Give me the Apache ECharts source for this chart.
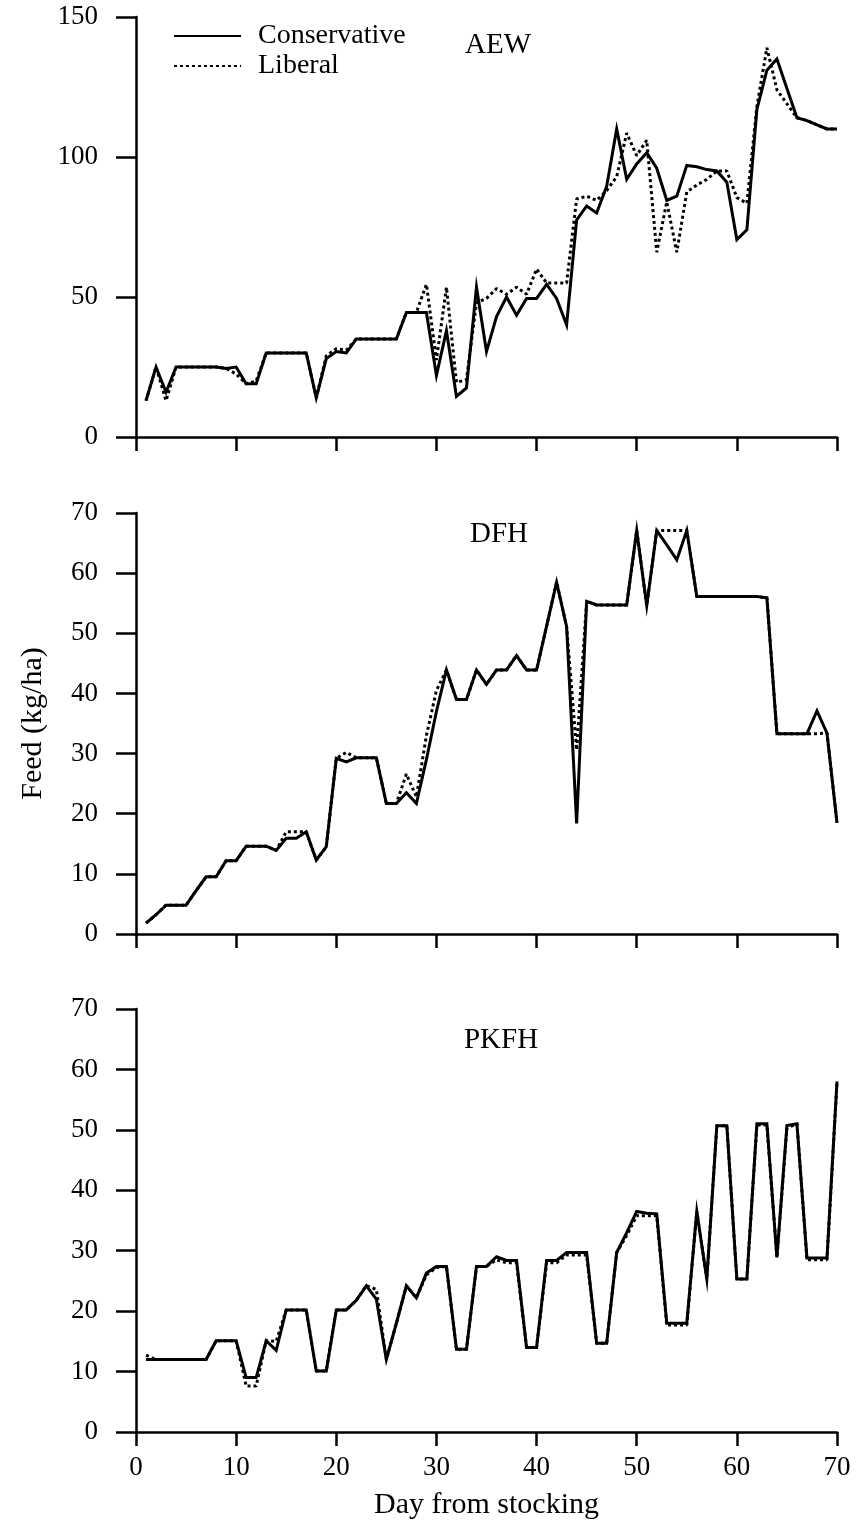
<!DOCTYPE html>
<html>
<head>
<meta charset="utf-8">
<title>Feed (kg/ha) by day from stocking</title>
<script src="https://cdn.jsdelivr.net/npm/echarts@6/dist/echarts.min.js"></script>
<style>
  html, body { margin: 0; padding: 0; background: #fff; }
  #chart { width: 857px; height: 1525px; }
</style>
</head>
<body>
<div id="chart"></div>
<script>
// Day from stocking
const days = [1,2,3,4,5,6,7,8,9,10,11,12,13,14,15,16,17,18,19,20,
  21,22,23,24,25,26,27,28,29,30,31,32,33,34,35,36,37,38,39,40,
  41,42,43,44,45,46,47,48,49,50,51,52,53,54,55,56,57,58,59,60,
  61,62,63,64,65,66,67,68,69,70];

// Panel names
const panelNames = ['AEW', 'DFH', 'PKFH'];
const seriesNames = ['Conservative', 'Liberal'];

// Tick labels for the day axis
const dayTicks = [0, 10, 20, 30, 40, 50, 60, 70];

// AEW feed (kg/ha)
const aewConservative = [13,25,16,25,25,25,25,25,24.5,25,
  19,19,30,30,30,30,30,14,28,30.5,
  30,35,35,35,35,35,44.5,44.5,44.5,22,
  38,14.5,17.5,53.5,30.5,43,50,43.5,49.5,49.5,
  54.5,49.5,40,77.5,82.5,80,89.5,110,92,97.5,
  101.5,96,84.5,86,97,96.5,95.5,95,91,70.5,
  74,117,131,135,124.5,114,113,111.5,110,110];
const aewLiberal = [13,25,13,25,25,25,25,25,24.5,22.5,
  19,20,30,30,30,30,30,14,29,31.5,
  31,35,35,35,35,35,44.5,44.5,54.5,27.5,
  53.5,19.5,20.5,48,49.5,53,51,53.5,51,60,
  55,55,55,85,86,84.5,88,93,108.5,100.5,
  106,66,84,66,87.5,90,92,95,95,85.5,
  83.5,118,139,124,119,114,113,111.5,110,110];

// DFH feed (kg/ha)
const dfhConservative = [1.8,3.2,4.8,4.8,4.8,7.2,9.5,9.5,12.2,12.2,
  14.6,14.6,14.6,13.9,15.9,15.9,17,12.3,14.5,29.2,
  28.6,29.3,29.3,29.3,21.7,21.7,23.5,21.7,29,37,
  43.9,39,39,43.9,41.5,43.9,43.9,46.3,43.9,43.9,
  51.2,58.5,51.1,18.4,55.3,54.7,54.7,54.7,54.7,67.1,
  54.6,67.1,64.7,62.2,67.1,56.1,56.1,56.1,56.1,56.1,
  56.1,56.1,55.9,33.3,33.3,33.3,33.3,37.1,33.4,18.5];
const dfhLiberal = [1.8,3.2,4.8,4.8,4.8,7.2,9.5,9.5,12.2,12.2,
  14.6,14.6,14.6,13.9,17,17,17,12.3,14.5,29.2,
  30.2,29.3,29.3,29.3,21.7,21.7,26.6,22.8,33,40.5,
  43.9,39,39,43.9,41.5,43.9,43.9,46.3,43.9,43.9,
  51.2,58.5,51.1,30.6,55.3,54.7,54.7,54.7,54.7,67.1,
  54.6,67.1,67.1,67.1,67.1,56.1,56.1,56.1,56.1,56.1,
  56.1,56.1,55.9,33.3,33.3,33.3,33.3,33.3,33.4,18.5];

// PKFH feed (kg/ha)
const pkfhConservative = [12,12,12,12,12,12,12,15.1,15.1,15.1,
  9,9,15.1,13.5,20.2,20.2,20.2,10.1,10.1,20.2,
  20.2,21.8,24.2,22,12,18,24.2,22.2,26.3,27.4,
  27.4,13.7,13.7,27.4,27.4,29,28.4,28.4,14,14,
  28.4,28.4,29.7,29.7,29.7,14.7,14.7,29.7,33,36.5,
  36.2,36.1,18,18,18,36.5,25.3,50.7,50.7,25.3,
  25.3,51,51,28.9,50.7,51,28.8,28.8,28.8,58];
const pkfhLiberal = [12.7,12,12,12,12,12,12,15.1,15.1,15.1,
  7.6,7.6,15.1,15,20.2,20.2,20.2,10.1,10.1,20.2,
  20.2,21.8,24.2,23.6,12,18,24.2,22.2,26,27.2,
  27.4,13.7,13.7,27.4,27.4,28.5,28,28,14,14,
  28,28,29.3,29.3,29.3,14.7,14.7,29.7,32.5,35.8,
  35.8,35.8,17.7,17.7,17.7,36.5,25.3,50.7,50.7,25.3,
  25.3,50.8,50.8,28.9,50.3,51,28.5,28.5,28.5,58];

const panels = [
  { cons: aewConservative, lib: aewLiberal, max: 150, step: 50 },
  { cons: dfhConservative, lib: dfhLiberal, max: 70, step: 10 },
  { cons: pkfhConservative, lib: pkfhLiberal, max: 70, step: 10 }
];

const FONT = 'Liberation Serif';
const INK = '#000';
const gridBoxes = [
  { top: 17, height: 420 },
  { top: 513, height: 421 },
  { top: 1009, height: 423 }
];
const titleTops = [26, 515, 1021];
const titleLefts = [493, 494, 496];

function pairs(values) {
  return days.map((d, i) => [d, values[i]]);
}

const grid = gridBoxes.map(b => ({ left: 136, width: 701, top: b.top, height: b.height }));

const xAxis = panels.map((p, i) => ({
  type: 'value', gridIndex: i, min: 0, max: 70, interval: 10,
  axisLine: { show: true, onZero: false, lineStyle: { color: INK, width: 2.5 } },
  axisTick: { show: true, length: 14, lineStyle: { color: INK, width: 2.5 } },
  splitLine: { show: false },
  axisLabel: {
    show: i === 2, margin: 22, color: INK, fontFamily: FONT, fontSize: 27,
    formatter: v => (dayTicks.indexOf(v) >= 0 ? String(v) : '')
  },
  name: i === 2 ? 'Day from stocking' : '',
  nameLocation: 'middle', nameGap: 58,
  nameTextStyle: { color: INK, fontFamily: FONT, fontSize: 30 }
}));

const yAxis = panels.map((p, i) => ({
  type: 'value', gridIndex: i, min: 0, max: p.max, interval: p.step,
  axisLine: { show: true, lineStyle: { color: INK, width: 2.5 } },
  axisTick: { show: true, length: 20, lineStyle: { color: INK, width: 2.5 } },
  splitLine: { show: false },
  axisLabel: { margin: 38, color: INK, fontFamily: FONT, fontSize: 27 },
  name: i === 1 ? 'Feed (kg/ha)' : '',
  nameLocation: 'middle', nameGap: 88, nameRotate: 90,
  nameTextStyle: { color: INK, fontFamily: FONT, fontSize: 30 }
}));

const series = [];
panels.forEach((p, i) => {
  series.push({
    name: seriesNames[1], type: 'line', xAxisIndex: i, yAxisIndex: i,
    data: pairs(p.lib), symbol: 'none', z: 2, silent: true, color: INK,
    lineStyle: { color: INK, width: 3, type: [3, 3], cap: 'butt' }
  });
  series.push({
    name: seriesNames[0], type: 'line', xAxisIndex: i, yAxisIndex: i,
    data: pairs(p.cons), symbol: 'none', z: 3, silent: true, color: INK,
    lineStyle: { color: INK, width: 3, type: 'solid', join: 'miter' }
  });
});

const title = panelNames.map((n, i) => ({
  text: n, left: titleLefts[i], top: titleTops[i], textAlign: 'center',
  textStyle: { color: INK, fontFamily: FONT, fontSize: 29, fontWeight: 'normal' }
}));

const chart = echarts.init(document.getElementById('chart'), null, { renderer: 'canvas' });
chart.setOption({
  animation: false,
  backgroundColor: '#fff',
  title: title,
  legend: {
    data: seriesNames, orient: 'vertical', left: 168, top: 17,
    itemWidth: 67, itemHeight: 14, itemGap: 2,
    itemStyle: { opacity: 0 },
    textStyle: { color: INK, fontFamily: FONT, fontSize: 28, padding: [0, 0, 0, 12] },
    selectedMode: false
  },
  grid: grid,
  xAxis: xAxis,
  yAxis: yAxis,
  series: series
});
</script>
</body>
</html>
